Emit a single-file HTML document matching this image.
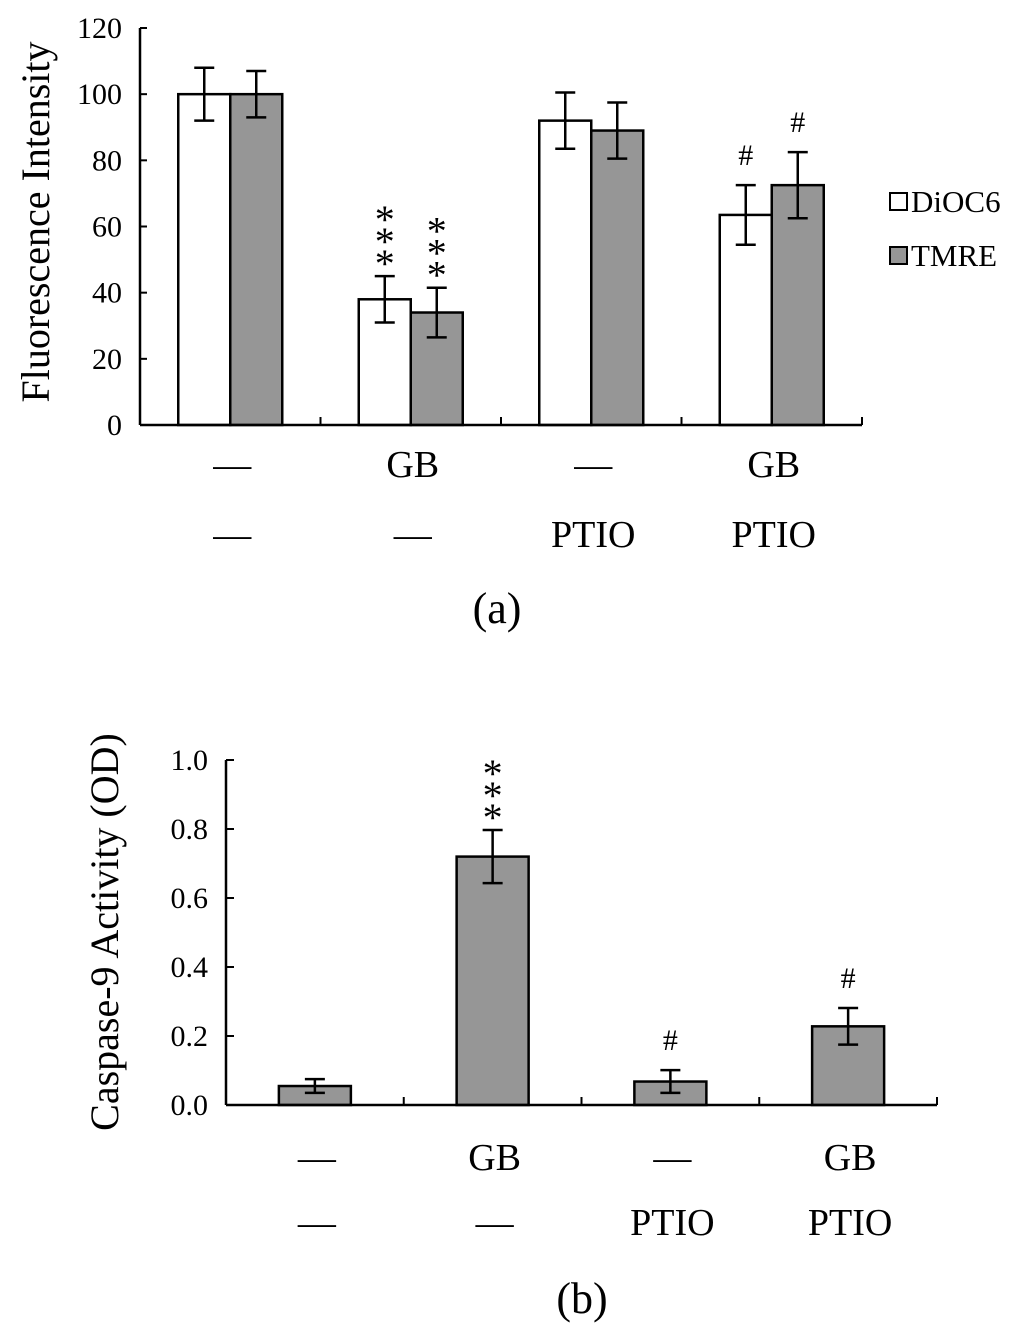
<!DOCTYPE html>
<html><head><meta charset="utf-8">
<style>
html,body{margin:0;padding:0;background:#fff;}
svg{display:block;font-family:"Liberation Serif",serif;}
</style></head>
<body>
<svg id="chart" width="1024" height="1337" viewBox="0 0 1024 1337" xmlns="http://www.w3.org/2000/svg"></svg>
<script>
// Panel (a) data
const aCategories = ["ctrl","GB","PTIO","GB+PTIO"];
const aRow1 = ["—","GB","—","GB"];
const aRow2 = ["—","—","PTIO","PTIO"];
const aSeriesNames = ["DiOC6","TMRE"];
const aDiOC6 = [100,38,92,63.5];
const aDiOC6Err = [8,7,8.5,9];
const aTMRE = [100,34,89,72.5];
const aTMREErr = [7,7.5,8.5,10];
const aMarksDiOC6 = ["","***","","#"];
const aMarksTMRE = ["","***","","#"];
const aTicks = [0,20,40,60,80,100,120];
// Panel (b) data
const bRow1 = ["—","GB","—","GB"];
const bRow2 = ["—","—","PTIO","PTIO"];
const bValues = [0.055,0.72,0.068,0.228];
const bErr = [0.02,0.077,0.033,0.053];
const bMarks = ["","***","#","#"];
const bTicks = [0,0.2,0.4,0.6,0.8,1.0];

const svg = document.getElementById('chart');
const NS = "http://www.w3.org/2000/svg";
function el(tag, attrs, parent){const e=document.createElementNS(NS,tag);for(const k in attrs)e.setAttribute(k,attrs[k]);(parent||svg).appendChild(e);return e;}
function txt(s, attrs, parent){const e=el('text',attrs,parent);e.textContent=s;return e;}

function drawMarks(g, mark, cx, topY){
  if(!mark) return;
  if(mark==="***"){
    for(let i=0;i<3;i++){
      const t=txt("*",{x:cx,y:topY+1-i*22,'text-anchor':'middle','font-size':40},g);
      
      
    }
  } else {
    const t=txt("#",{x:cx,y:topY-20,'text-anchor':'middle','font-size':30},g);
    
    
  }
}

function errBar(g, cx, yv, ye, ys){
  const y1=ys(yv+ye), y2=ys(yv-ye);
  el('line',{x1:cx,x2:cx,y1:y1,y2:y2,stroke:'#000','stroke-width':2.5},g);
  el('line',{x1:cx-10,x2:cx+10,y1:y1,y2:y1,stroke:'#000','stroke-width':2.5},g);
  el('line',{x1:cx-10,x2:cx+10,y1:y2,y2:y2,stroke:'#000','stroke-width':2.5},g);
}

// ---------- Panel A ----------
(function(){
  const X0=140, X1=862, Y0=425, Y1=28, ymax=120;
  const ys=v=>Y0-(v/ymax)*(Y0-Y1);
  const cw=(X1-X0)/aCategories.length;
  const xc=i=>X0+cw*(i+0.5);
  const g=el('g',{});
  
  
  const bw=52;
  aCategories.forEach((c,i)=>{
    const cx=xc(i);
    const r1=el('rect',{x:cx-bw,y:ys(aDiOC6[i]),width:bw,height:Y0-ys(aDiOC6[i]),fill:'#fff',stroke:'#000','stroke-width':2.5},g);
    
    
    const r2=el('rect',{x:cx,y:ys(aTMRE[i]),width:bw,height:Y0-ys(aTMRE[i]),fill:'#969696',stroke:'#000','stroke-width':2.5},g);
    
    
    errBar(g,cx-bw/2,aDiOC6[i],aDiOC6Err[i],ys);
    errBar(g,cx+bw/2,aTMRE[i],aTMREErr[i],ys);
    drawMarks(g,aMarksDiOC6[i],cx-bw/2,ys(aDiOC6[i]+aDiOC6Err[i]));
    drawMarks(g,aMarksTMRE[i],cx+bw/2,ys(aTMRE[i]+aTMREErr[i]));
    const t1=txt(aRow1[i],{x:cx+2,y:477,'text-anchor':'middle','font-size':38},g);
    
    
    const t2=txt(aRow2[i],{x:cx+2,y:547,'text-anchor':'middle','font-size':38},g);
    
    
  });
  el('line',{x1:X0,x2:X0,y1:Y1,y2:Y0,stroke:'#000','stroke-width':2.5},g);
  el('line',{x1:X0,x2:X1,y1:Y0,y2:Y0,stroke:'#000','stroke-width':2.5},g);
  for(let i=1;i<=aCategories.length;i++) el('line',{x1:X0+cw*i,x2:X0+cw*i,y1:Y0,y2:Y0-8,stroke:'#000','stroke-width':2},g);
  aTicks.forEach(v=>{
    el('line',{x1:X0,x2:X0+7,y1:ys(v),y2:ys(v),stroke:'#000','stroke-width':2},g);
    const t=txt(String(v),{x:X0-18,y:ys(v)+10,'text-anchor':'end','font-size':30},g);
    
    
  });
  const yt=txt("Fluorescence Intensity",{x:0,y:0,transform:'translate(49,222) rotate(-90)','text-anchor':'middle','font-size':40},g);
  
  
  // legend
  const lg=el('g',{},g);
  
  
  const fills=['#fff','#969696'];
  aSeriesNames.forEach((n,i)=>{
    const y=193+i*54;
    const r=el('rect',{x:890,y:y,width:17,height:17,fill:fills[i],stroke:'#000','stroke-width':2},lg);
    
    
    const t=txt(n,{x:911,y:y+19,'font-size':31},lg);
    
    
  });
  const cap=txt("(a)",{x:497,y:623,'text-anchor':'middle','font-size':44},g);
  
  
})();

// ---------- Panel B ----------
(function(){
  const X0=226, X1=937, Y0=1105, Y1=760, ymax=1.0;
  const ys=v=>Y0-(v/ymax)*(Y0-Y1);
  const cw=(X1-X0)/bValues.length;
  const xc=i=>X0+cw*(i+0.5);
  const g=el('g',{});
  
  
  const bw=72;
  bValues.forEach((v,i)=>{
    const cx=xc(i);
    const r=el('rect',{x:cx-bw/2,y:ys(v),width:bw,height:Y0-ys(v),fill:'#969696',stroke:'#000','stroke-width':2.5},g);
    
    
    errBar(g,cx,v,bErr[i],ys);
    drawMarks(g,bMarks[i],cx,ys(v+bErr[i]));
    const t1=txt(bRow1[i],{x:cx+2,y:1170,'text-anchor':'middle','font-size':38},g);
    
    
    const t2=txt(bRow2[i],{x:cx+2,y:1235,'text-anchor':'middle','font-size':38},g);
    
    
  });
  el('line',{x1:X0,x2:X0,y1:Y1,y2:Y0,stroke:'#000','stroke-width':2.5},g);
  el('line',{x1:X0,x2:X1,y1:Y0,y2:Y0,stroke:'#000','stroke-width':2.5},g);
  for(let i=1;i<=bValues.length;i++) el('line',{x1:X0+cw*i,x2:X0+cw*i,y1:Y0,y2:Y0-8,stroke:'#000','stroke-width':2},g);
  bTicks.forEach(v=>{
    el('line',{x1:X0,x2:X0+8,y1:ys(v),y2:ys(v),stroke:'#000','stroke-width':2},g);
    const t=txt(v.toFixed(1),{x:X0-18,y:ys(v)+10,'text-anchor':'end','font-size':30},g);
    
    
  });
  const yt=txt("Caspase-9 Activity (OD)",{x:0,y:0,transform:'translate(118,932) rotate(-90)','text-anchor':'middle','font-size':40},g);
  
  
  const cap=txt("(b)",{x:582,y:1313,'text-anchor':'middle','font-size':44},g);
  
  
})();
</script>
</body></html>
